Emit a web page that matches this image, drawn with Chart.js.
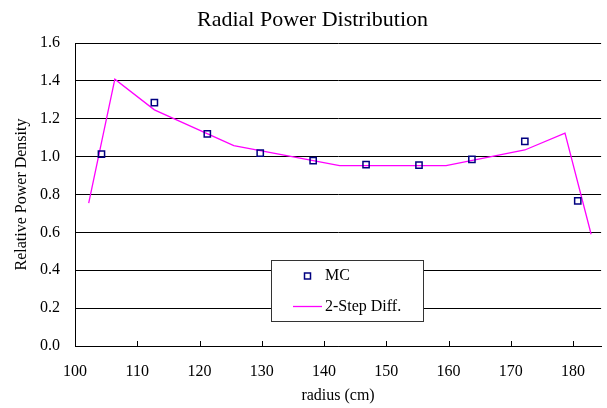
<!DOCTYPE html>
<html>
<head>
<meta charset="utf-8">
<script src="https://cdn.jsdelivr.net/npm/chart.js"></script>
<style>
html,body{margin:0;padding:0;background:#fff;}
#wrap{width:607px;height:408px;}
</style>
</head>
<body>
<div id="wrap"><canvas id="c" width="607" height="408"></canvas></div>
<script>
const chartTitle = "Radial Power Distribution";
const xTitle = "radius (cm)";
const yTitle = "Relative Power Density";
const mcLabel = "MC";
const diffLabel = "2-Step Diff.";
const mcRadius = [104.25, 112.75, 121.25, 129.75, 138.25, 146.75, 155.25, 163.75, 172.25, 180.75];
const mcValues = [1.013, 1.285, 1.120, 1.018, 0.979, 0.958, 0.955, 0.986, 1.081, 0.766];
const diffRadius = [102.2, 106.4, 112.75, 125.5, 142.5, 159.6, 172.25, 178.7, 182.9];
const diffValues = [0.754, 1.409, 1.247, 1.058, 0.952, 0.952, 1.035, 1.124, 0.590];
const xTicks = [100, 110, 120, 130, 140, 150, 160, 170, 180];
const yTicks = [0.0, 0.2, 0.4, 0.6, 0.8, 1.0, 1.2, 1.4, 1.6];

const FONT = "'Liberation Serif', 'Times New Roman', serif";

const innerTicks = {
  id: 'innerTicks',
  afterDatasetsDraw(chart) {
    const {ctx, scales: {x}, chartArea} = chart;
    ctx.save();
    ctx.strokeStyle = '#000';
    ctx.lineWidth = 1;
    ctx.beginPath();
    xTicks.forEach(v => {
      const px = Math.round(x.getPixelForValue(v)) + 0.5;
      ctx.moveTo(px, chartArea.bottom);
      ctx.lineTo(px, chartArea.bottom - 5);
    });
    ctx.stroke();
    ctx.restore();
  }
};

const boxLegend = {
  id: 'boxLegend',
  afterDatasetsDraw(chart) {
    const {ctx} = chart;
    const ds = chart.data.datasets;
    const bx = 271.5, by = 260.5, bw = 152, bh = 61;
    ctx.save();
    ctx.fillStyle = '#fff';
    ctx.fillRect(bx, by, bw, bh);
    ctx.strokeStyle = '#333';
    ctx.lineWidth = 1;
    ctx.strokeRect(bx, by, bw, bh);
    ctx.strokeStyle = ds[0].borderColor;
    ctx.lineWidth = 1.5;
    ctx.strokeRect(304.5, 273, 6, 6);
    ctx.strokeStyle = ds[1].borderColor;
    ctx.lineWidth = ds[1].borderWidth;
    ctx.beginPath();
    ctx.moveTo(293, 306.5);
    ctx.lineTo(322, 306.5);
    ctx.stroke();
    ctx.fillStyle = '#000';
    ctx.font = "16px " + FONT;
    ctx.textBaseline = 'middle';
    ctx.textAlign = 'left';
    ctx.fillText(ds[0].label, 325, 276);
    ctx.fillText(ds[1].label, 325, 307);
    ctx.restore();
  }
};

new Chart(document.getElementById('c'), {
  type: 'scatter',
  data: {
    datasets: [
      {
        label: mcLabel,
        data: mcRadius.map((r, i) => ({x: r, y: mcValues[i]})),
        pointStyle: 'rect',
        pointRadius: 4.4,
        pointBorderWidth: 1.5,
        borderColor: '#000080',
        backgroundColor: 'rgba(255,255,255,0)',
        showLine: false,
        order: 1
      },
      {
        label: diffLabel,
        data: diffRadius.map((r, i) => ({x: r, y: diffValues[i]})),
        showLine: true,
        borderColor: '#FF00FF',
        borderWidth: 1.3,
        pointRadius: 0,
        tension: 0,
        fill: false,
        order: 2
      }
    ]
  },
  options: {
    responsive: false,
    animation: false,
    devicePixelRatio: 1,
    layout: {padding: {left: 20, right: 2, top: 0, bottom: 0}},
    plugins: {
      legend: {display: false},
      tooltip: {enabled: false},
      title: {
        display: true,
        text: chartTitle,
        color: '#000',
        font: {family: FONT, size: 22, weight: 'normal'},
        padding: {top: 7.5, bottom: 9.1}
      }
    },
    scales: {
      x: {
        type: 'linear',
        min: 100,
        max: 184.5,
        afterFit(s) { s.height = 62; },
        afterBuildTicks(s) { s.ticks = xTicks.map(v => ({value: v})); },
        ticks: {
          color: '#000',
          font: {family: FONT, size: 16},
          padding: 16,
          autoSkip: false,
          maxRotation: 0,
          callback: v => String(v)
        },
        grid: {display: false, drawTicks: false},
        border: {display: true, color: '#000', width: 1},
        title: {
          display: true,
          text: xTitle,
          color: '#000',
          font: {family: FONT, size: 16},
          padding: {top: 0, bottom: 3}
        }
      },
      y: {
        min: 0,
        max: 1.6,
        afterFit(s) { s.width = 55; },
        afterBuildTicks(s) { s.ticks = yTicks.map(v => ({value: v})); },
        ticks: {
          color: '#000',
          font: {family: FONT, size: 16},
          padding: 15,
          callback: v => Number(v).toFixed(1)
        },
        grid: {color: '#000', lineWidth: 1, drawTicks: false},
        border: {display: true, color: '#000', width: 1},
        title: {
          display: true,
          text: yTitle,
          color: '#000',
          font: {family: FONT, size: 16},
          padding: {top: -8, bottom: 0}
        }
      }
    }
  },
  plugins: [innerTicks, boxLegend]
});
</script>
</body>
</html>
